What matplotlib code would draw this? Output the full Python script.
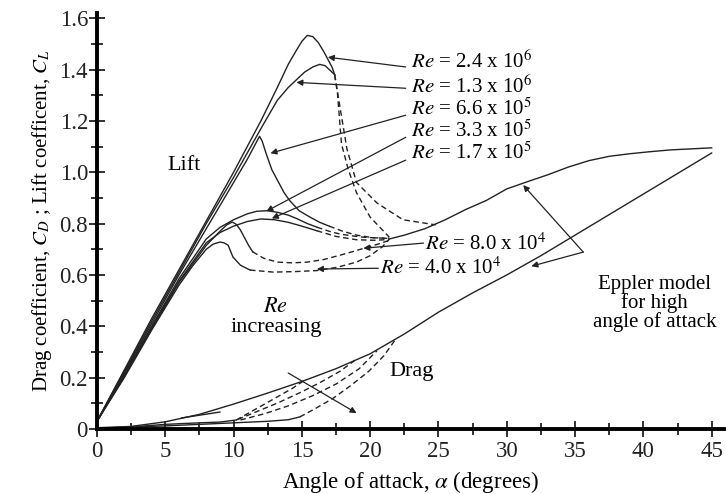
import numpy as np
import matplotlib
matplotlib.use("Agg")
import matplotlib.pyplot as plt
from matplotlib.ticker import MultipleLocator

plt.rcParams['font.family'] = ['Liberation Serif', 'DejaVu Serif']
plt.rcParams['mathtext.fontset'] = 'stix'

# ---- lift curves (solid part, then dashed post-stall part) ----
a_24e6 = [0, 2, 4, 6, 8, 10, 12, 13.2, 14, 14.6, 15.0, 15.4, 15.8, 16.2, 16.6, 16.9, 17.2, 17.4]
cl_24e6 = [0.03, 0.23, 0.43, 0.62, 0.81, 1.0, 1.2, 1.33, 1.42, 1.475, 1.51, 1.533, 1.528, 1.505, 1.47, 1.44, 1.41, 1.38]
a_24e6_d = [17.4, 17.6, 17.9, 18.4, 19.0, 20.0, 21.4]
cl_24e6_d = [1.38, 1.31, 1.11, 1.01, 0.92, 0.825, 0.747]

a_13e6 = [0, 2, 4, 6, 8, 10, 12, 13.2, 14, 14.6, 15.2, 15.8, 16.3, 16.7, 17.0, 17.4]
cl_13e6 = [0.03, 0.225, 0.42, 0.61, 0.80, 0.98, 1.17, 1.28, 1.33, 1.36, 1.39, 1.41, 1.42, 1.415, 1.40, 1.38]
a_13e6_d = [17.4, 17.8, 18.3, 19.0, 20.5, 22.4, 24.8]
cl_13e6_d = [1.38, 1.25, 1.09, 0.96, 0.88, 0.815, 0.795]

a_66e5 = [0, 2, 4, 6, 8, 10, 11, 11.6, 11.9, 12.1, 12.4, 12.8, 13.2, 13.7, 14.1, 14.8, 15.6, 16.3, 17.0]
cl_66e5 = [0.03, 0.22, 0.41, 0.60, 0.78, 0.96, 1.05, 1.11, 1.14, 1.12, 1.07, 1.01, 0.97, 0.92, 0.89, 0.85, 0.825, 0.805, 0.79]
a_66e5_d = [17.0, 18.0, 19.0, 20.2, 21.4]
cl_66e5_d = [0.79, 0.77, 0.755, 0.745, 0.742]

a_33e5 = [0, 2, 4, 6, 8, 9, 10, 11, 11.7, 12.5, 13.2, 14, 14.6, 15.4, 16.1]
cl_33e5 = [0.03, 0.215, 0.40, 0.585, 0.74, 0.785, 0.815, 0.838, 0.848, 0.85, 0.844, 0.833, 0.82, 0.80, 0.786]
a_33e5_d = [16.1, 17.0, 17.8, 18.7, 19.5, 20.5, 21.4]
cl_33e5_d = [0.786, 0.77, 0.759, 0.752, 0.747, 0.744, 0.743]

a_17e5 = [0, 2, 4, 6, 8, 9, 10, 11, 12, 13, 14, 15, 16.1]
cl_17e5 = [0.03, 0.21, 0.395, 0.575, 0.725, 0.765, 0.79, 0.808, 0.818, 0.815, 0.805, 0.79, 0.772]
a_17e5_d = [16.1, 17.5, 19.0, 20.3, 21.4]
cl_17e5_d = [0.772, 0.75, 0.737, 0.735, 0.738]

a_8e4 = [0, 2, 4, 6, 8, 9, 9.5, 9.9, 10.2, 10.5, 10.8, 11.1, 11.4]
cl_8e4 = [0.03, 0.205, 0.39, 0.57, 0.715, 0.77, 0.795, 0.806, 0.797, 0.775, 0.745, 0.715, 0.69]
a_8e4_d = [11.4, 12.2, 13.2, 14.3, 15.4, 16.6, 17.8, 18.8, 19.8, 20.7, 21.4]
cl_8e4_d = [0.69, 0.665, 0.65, 0.647, 0.65, 0.66, 0.677, 0.692, 0.708, 0.722, 0.735]

a_4e4 = [0, 2, 4, 6, 7, 8, 8.5, 9.0, 9.3, 9.6, 9.95, 10.5, 11.2]
cl_4e4 = [0.03, 0.2, 0.385, 0.56, 0.635, 0.7, 0.72, 0.728, 0.725, 0.716, 0.67, 0.638, 0.619]
a_4e4_d = [11.2, 12.9, 14.5, 16.1, 17.6, 19.0, 20.0, 20.9, 21.4]
cl_4e4_d = [0.619, 0.611, 0.613, 0.617, 0.63, 0.65, 0.675, 0.71, 0.74]

# Eppler model, lift at high angle of attack
a_eppler = [21.4, 22.5, 24.0, 25.5, 27.0, 28.5, 30.0, 31.5, 33.0, 34.5, 36.0, 37.5, 39.0, 40.5, 42.0, 43.5, 45.0]
cl_eppler = [0.74, 0.755, 0.78, 0.815, 0.855, 0.89, 0.935, 0.963, 0.99, 1.02, 1.045, 1.062, 1.072, 1.08, 1.087, 1.091, 1.095]

# ---- drag curves ----
a_drag = [0, 2.5, 5, 7.5, 10, 12.5, 15, 17.5, 20, 22.5, 25, 27.5, 30, 32.5, 35, 37.5, 40, 42.5, 45]
cd_drag = [0.005, 0.01, 0.028, 0.057, 0.097, 0.14, 0.185, 0.235, 0.293, 0.37, 0.455, 0.53, 0.6, 0.675,
           0.755, 0.835, 0.915, 0.995, 1.075]
a_drag_lo1 = [0, 2.5, 5, 7.5, 9, 10.2]
cd_drag_lo1 = [0.003, 0.008, 0.018, 0.024, 0.027, 0.035]
a_drag_lo2 = [0, 5, 7.5, 10, 12.5, 14.0, 14.85]
cd_drag_lo2 = [0.003, 0.012, 0.018, 0.024, 0.03, 0.036, 0.047]
a_drag_short = [6.2, 9.0]
cd_drag_short = [0.043, 0.066]

a_drag_d1 = [10.2, 11.2, 12.2, 13.3, 14.3, 15.2]
cd_drag_d1 = [0.035, 0.065, 0.095, 0.128, 0.158, 0.19]
a_drag_d2 = [10.3, 11.8, 13.3, 14.8, 16.3, 17.8, 19.1]
cd_drag_d2 = [0.037, 0.07, 0.103, 0.14, 0.18, 0.225, 0.276]
a_drag_d3 = [10.5, 12.3, 14.0, 15.8, 17.5, 19.2, 20.5]
cd_drag_d3 = [0.035, 0.06, 0.09, 0.13, 0.175, 0.235, 0.305]
a_drag_d4 = [14.85, 16.0, 17.3, 18.6, 19.9, 21.0, 21.8]
cd_drag_d4 = [0.047, 0.08, 0.12, 0.17, 0.225, 0.285, 0.345]

# ---- labels: text, text anchor, arrow start, arrow tip ----
re_labels = ['2.4 x 10$^6$', '1.3 x 10$^6$', '6.6 x 10$^5$', '3.3 x 10$^5$', '1.7 x 10$^5$',
             '8.0 x 10$^4$', '4.0 x 10$^4$']
re_text_pos = [(23.0, 1.432), (23.0, 1.331), (23.0, 1.245), (23.0, 1.16), (23.0, 1.074),
               (24.0, 0.72), (20.7, 0.626)]
re_arrow_start = [(22.6, 1.41), (22.6, 1.327), (22.6, 1.222), (22.6, 1.136), (22.6, 1.047),
                  (23.9, 0.724), (20.6, 0.626)]
re_arrow_tip = [(16.9, 1.448), (14.6, 1.35), (12.7, 1.074), (12.4, 0.848), (12.8, 0.82),
                (19.5, 0.704), (16.1, 0.623)]

eppler_vertex = (35.6, 0.689)
eppler_tips = [(31.2, 0.95), (31.8, 0.634)]
re_incr_start = (14.0, 0.218)
re_incr_tip = (19.0, 0.062)

fig = plt.figure(figsize=(7.26, 4.94), dpi=100)
ax = fig.add_axes([0.1336, 0.1316, 0.8636, 0.842])

lw = 1.0
dash = (0, (4, 2.5))
solid_sets = [(a_24e6, cl_24e6), (a_13e6, cl_13e6), (a_66e5, cl_66e5), (a_33e5, cl_33e5),
              (a_17e5, cl_17e5), (a_8e4, cl_8e4), (a_4e4, cl_4e4), (a_eppler, cl_eppler),
              (a_drag, cd_drag), (a_drag_lo1, cd_drag_lo1), (a_drag_lo2, cd_drag_lo2),
              (a_drag_short, cd_drag_short)]
dashed_sets = [(a_24e6_d, cl_24e6_d), (a_13e6_d, cl_13e6_d), (a_66e5_d, cl_66e5_d),
               (a_33e5_d, cl_33e5_d), (a_17e5_d, cl_17e5_d), (a_8e4_d, cl_8e4_d),
               (a_4e4_d, cl_4e4_d), (a_drag_d1, cd_drag_d1), (a_drag_d2, cd_drag_d2),
               (a_drag_d3, cd_drag_d3), (a_drag_d4, cd_drag_d4)]
for xs, ys in solid_sets:
    ax.plot(xs, ys, color='#222222', lw=lw, solid_joinstyle='round')
for xs, ys in dashed_sets:
    ax.plot(xs, ys, color='#222222', lw=lw, linestyle=dash)

arrow_kw = dict(arrowstyle='-|>', color='#222222', lw=0.9, mutation_scale=9, shrinkA=0, shrinkB=0)
fs = 15
for lab, tp, st, tip in zip(re_labels, re_text_pos, re_arrow_start, re_arrow_tip):
    ax.text(tp[0], tp[1], '$Re$ = ' + lab, fontsize=fs, va='center', ha='left')
    ax.annotate('', xy=tip, xytext=st, arrowprops=arrow_kw)

for tip in eppler_tips:
    ax.annotate('', xy=tip, xytext=eppler_vertex, arrowprops=arrow_kw)
ax.text(40.8, 0.49, 'Eppler model\nfor high\nangle of attack', fontsize=fs, ha='center',
        va='center', linespacing=0.95)
ax.text(6.4, 1.027, 'Lift', fontsize=16, ha='center', va='center')
ax.text(23.0, 0.222, 'Drag', fontsize=16, ha='center', va='center')
ax.text(13.1, 0.475, '$Re$', fontsize=16, ha='center', va='center')
ax.text(13.1, 0.397, 'increasing', fontsize=16, ha='center', va='center')
ax.annotate('', xy=re_incr_tip, xytext=re_incr_start, arrowprops=arrow_kw)

ax.set_xlim(0, 45.9)
ax.set_ylim(0, 1.62)
ax.spines['top'].set_visible(False)
ax.spines['right'].set_visible(False)
ax.spines['left'].set_linewidth(2.8)
ax.spines['bottom'].set_linewidth(2.8)
ax.xaxis.set_major_locator(MultipleLocator(5))
ax.xaxis.set_minor_locator(MultipleLocator(2.5))
ax.yaxis.set_major_locator(MultipleLocator(0.2))
ax.yaxis.set_minor_locator(MultipleLocator(0.1))
ax.set_xticks(np.arange(0, 46, 5))
ax.set_yticks(np.arange(0, 1.61, 0.2))
ax.set_yticklabels(['0'] + ['%.1f' % v for v in np.arange(0.2, 1.61, 0.2)])
ax.tick_params(which='both', direction='inout', width=1.3, labelsize=16.5, colors='#222222')
ax.tick_params(axis='x', which='major', length=11, pad=3)
ax.tick_params(axis='y', which='major', length=11, pad=1)
ax.tick_params(which='minor', length=9)

ax.set_xlabel(r'Angle of attack, $\alpha$ (degrees)', fontsize=16.5, labelpad=5)
ax.set_ylabel('Drag coefficient, $C_D$ ; Lift coefficent, $C_L$', fontsize=15, labelpad=4)

fig.savefig('out.png', dpi=100)
